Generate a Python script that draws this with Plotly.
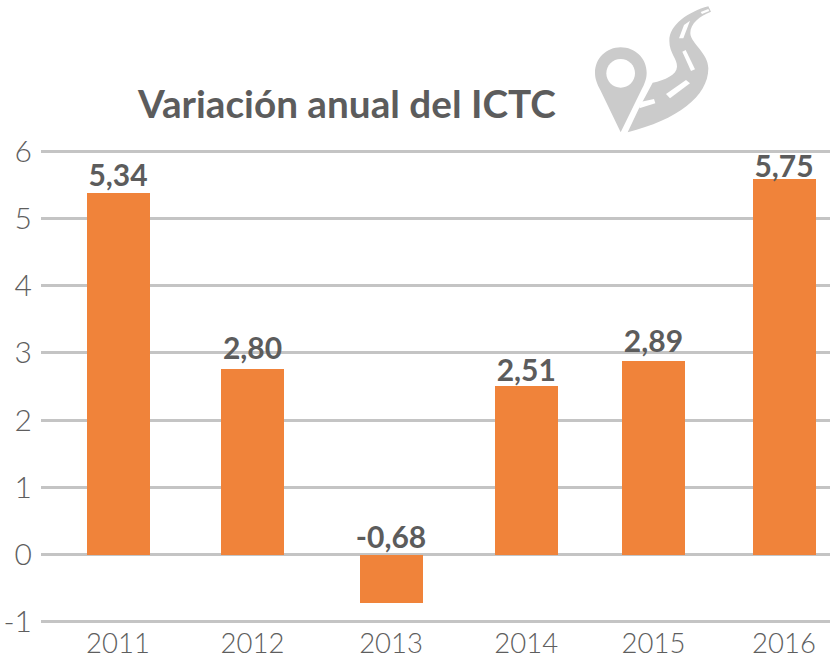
import re
import plotly.graph_objects as go

W, H = 830, 657
years = ["2011", "2012", "2013", "2014", "2015", "2016"]
# Slot of each bar along the axis: the reference spaces them slightly unevenly.
slots = [0.0, 1.01, 2.05, 3.065, 4.02, 5.0]
bar_values = [5.38, 2.76, -0.72, 2.51, 2.88, 5.59]
bar_labels = ["5,34", "2,80", "-0,68", "2,51", "2,89", "5,75"]
label_heights = [5.59, 3.02, 0.21, 2.69, 3.13, 5.72]
y_ticks = [-1, 0, 1, 2, 3, 4, 5, 6]
y_tick_labels = ["-1", "0", "1", "2", "3", "4", "5", "6"]
title_text = "Variación anual del ICTC"

ORANGE = "#F0833A"
GRID = "#C4C4C4"
TEXT = "#5C5C5C"
TICK = "#5E5E5E"
ICON = "#CBCBCB"
FONT = "Lato"

L, R, T, B = 41, 0, 149, 33
SLOT_PX = 133.2
FIRST_PX = 118


def icon_path(d):
    """Convert an icon path drawn in crop coordinates to paper coordinates."""
    def conv(m):
        x, y = float(m.group(1)), float(m.group(2))
        px, py = 580 + x / 3, y / 3
        return f"{(px - L) / (W - L - R):.5f},{1 - (py - T) / (H - T - B):.5f}"
    return re.sub(r"(-?[\d.]+),(-?[\d.]+)", conv, d)


pin = ("M122,397 L62,272 C50,250 45,235 45,218 C45,175 80,142 122,142 "
       "C165,142 200,175 200,218 C200,235 195,250 183,272 Z")
pin_hole = ("M122,177 C146,177 165,196 165,220 C165,244 146,263 122,263 "
            "C98,263 79,244 79,220 C79,196 98,177 122,177 Z")
road = ("M143,397 L176,327 L218,248 C255,240 290,225 291,200 C292,175 268,160 268,122 "
        "C268,75 325,35 385,19 L393,35 C360,48 330,70 331,100 C332,130 385,160 385,205 "
        "C385,290 290,360 143,397 Z")
dashes = [
    "M184,305 L222,297 L226,310 L178,325 Z",
    "M258,282 L318,240 L330,250 L270,295 Z",
    "M307,155 L317,150 L345,208 L333,213 Z",
    "M297,115 L312,75 L330,62 L310,115 Z",
    "M362,36 L385,27 L388,33 L366,42 Z",
]

shapes = []
for d, col in [(pin, ICON), (pin_hole, "#FFFFFF"), (road, ICON)] + [(x, "#FFFFFF") for x in dashes]:
    shapes.append(dict(type="path", path=icon_path(d), xref="paper", yref="paper",
                       fillcolor=col, line=dict(width=0), layer="above"))

fig = go.Figure()
fig.add_bar(x=slots, y=bar_values, width=63 / SLOT_PX, marker=dict(color=ORANGE, line=dict(width=0)),
            hoverinfo="skip", showlegend=False)
fig.add_scatter(x=slots, y=label_heights, mode="text", text=bar_labels,
                textposition="middle center", cliponaxis=False, showlegend=False, hoverinfo="skip",
                textfont=dict(family=FONT, size=30, color=TEXT, weight="bold"))

fig.update_layout(
    width=W, height=H, autosize=False,
    margin=dict(l=L, r=R, t=T, b=B, pad=0),
    paper_bgcolor="white", plot_bgcolor="white",
    bargap=0,
    title=dict(text=title_text, x=138 / W, xanchor="left", y=1 - 104 / H, yanchor="middle",
               font=dict(family=FONT, size=38.7, color=TEXT, weight="bold"), pad=dict(l=0, r=0, t=0, b=0)),
    shapes=shapes,
    xaxis=dict(type="linear", range=[(L - FIRST_PX) / SLOT_PX, (W - FIRST_PX) / SLOT_PX],
               tickmode="array", tickvals=slots, ticktext=years, showgrid=False, zeroline=False,
               showline=False, ticks="", ticklabelstandoff=0, automargin=False,
               tickfont=dict(family=FONT, size=27.5, color=TICK, weight=300)),
    yaxis=dict(range=[-1.03, 6.03], tickmode="array", tickvals=y_ticks, ticktext=y_tick_labels,
               showgrid=True, gridcolor=GRID, gridwidth=3, zeroline=False, showline=False,
               ticks="", ticklabelstandoff=8, automargin=False,
               tickfont=dict(family=FONT, size=30, color=TICK, weight=300)),
)

fig.write_html("out.html", config=dict(displayModeBar=False),
               post_script="document.body.style.margin='0';document.body.style.overflow='hidden';")
